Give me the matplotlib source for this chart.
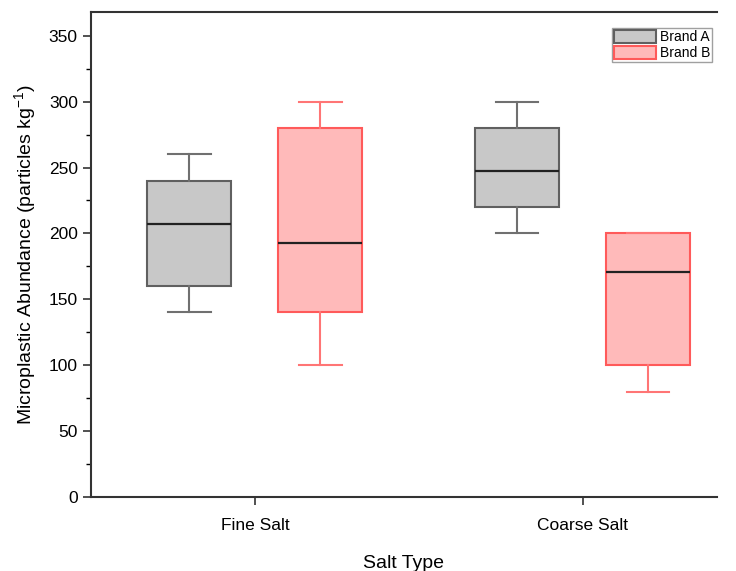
import matplotlib
matplotlib.use("Agg")
import matplotlib.pyplot as plt
from matplotlib.patches import Patch
from matplotlib.ticker import MultipleLocator

plt.rcParams['font.family'] = ['Liberation Sans', 'DejaVu Sans']
plt.rcParams['mathtext.fontset'] = 'custom'
plt.rcParams['mathtext.rm'] = 'Liberation Sans'
plt.rcParams['mathtext.it'] = 'Liberation Sans'
plt.rcParams['mathtext.default'] = 'regular'

categories = ["Fine Salt", "Coarse Salt"]
brands = ["Brand A", "Brand B"]

# five-number summaries per brand: (whisker low, Q1, median, Q3, whisker high)
brand_a = [(140, 160, 207, 240, 260), (200, 220, 247, 280, 300)]
brand_b = [(100, 140, 193, 280, 300), (80, 100, 171, 200, 200)]

fill_colors = ["#c8c8c8", "#ffbaba"]
edge_colors = ["#606060", "#ff5a5a"]
whisker_colors = ["#707070", "#ff7575"]

fig = plt.figure(figsize=(7.36, 5.71), dpi=100)
ax = fig.add_axes([0.1236, 0.1296, 0.8504, 0.8494])

offsets = [-0.2, 0.2]
for k, data in enumerate([brand_a, brand_b]):
    stats = []
    for s in data:
        stats.append(dict(whislo=s[0], q1=s[1], med=s[2], q3=s[3], whishi=s[4], fliers=[]))
    pos = [i + 1 + offsets[k] for i in range(len(categories))]
    ax.bxp(stats, positions=pos, widths=0.256, patch_artist=True, showfliers=False,
           boxprops=dict(facecolor=fill_colors[k], edgecolor=edge_colors[k], linewidth=1.5),
           whiskerprops=dict(color=whisker_colors[k], linewidth=1.5),
           capprops=dict(color=whisker_colors[k], linewidth=1.5),
           medianprops=dict(color="#222222", linewidth=1.6),
           capwidths=0.13, manage_ticks=False)

ax.set_xlim(0.5, 2.41)
ax.set_ylim(0, 368)
ax.set_xticks([1, 2])
ax.set_xticklabels(categories)
ax.yaxis.set_major_locator(MultipleLocator(50))
ax.yaxis.set_minor_locator(MultipleLocator(25))
ax.tick_params(axis='both', direction='out', labelsize=12.5, width=1.2, length=6,
               color="#333333", labelcolor="black")
ax.tick_params(axis='y', which='minor', direction='out', width=1.0, length=3.5)
ax.tick_params(axis='x', pad=9)
for side in ['left', 'bottom', 'top']:
    ax.spines[side].set_linewidth(1.5)
    ax.spines[side].set_color("#333333")
ax.spines['right'].set_visible(False)

ax.set_xlabel("Salt Type", fontsize=14, labelpad=16)
ax.set_ylabel("Microplastic Abundance (particles kg$^{-1}$)", fontsize=14, labelpad=8)

handles = [Patch(facecolor=fill_colors[k], edgecolor=edge_colors[k], linewidth=1.5, label=brands[k])
           for k in range(2)]
leg = ax.legend(handles=handles, loc='upper right', bbox_to_anchor=(0.993, 0.968), fontsize=10,
                frameon=True, fancybox=False, edgecolor="#888888", handlelength=3.0,
                handleheight=1.15, handletextpad=0.3, borderpad=0.15, labelspacing=0.1, borderaxespad=0.0)
leg.get_frame().set_linewidth(1.0)

fig.savefig("out.png", dpi=100)
